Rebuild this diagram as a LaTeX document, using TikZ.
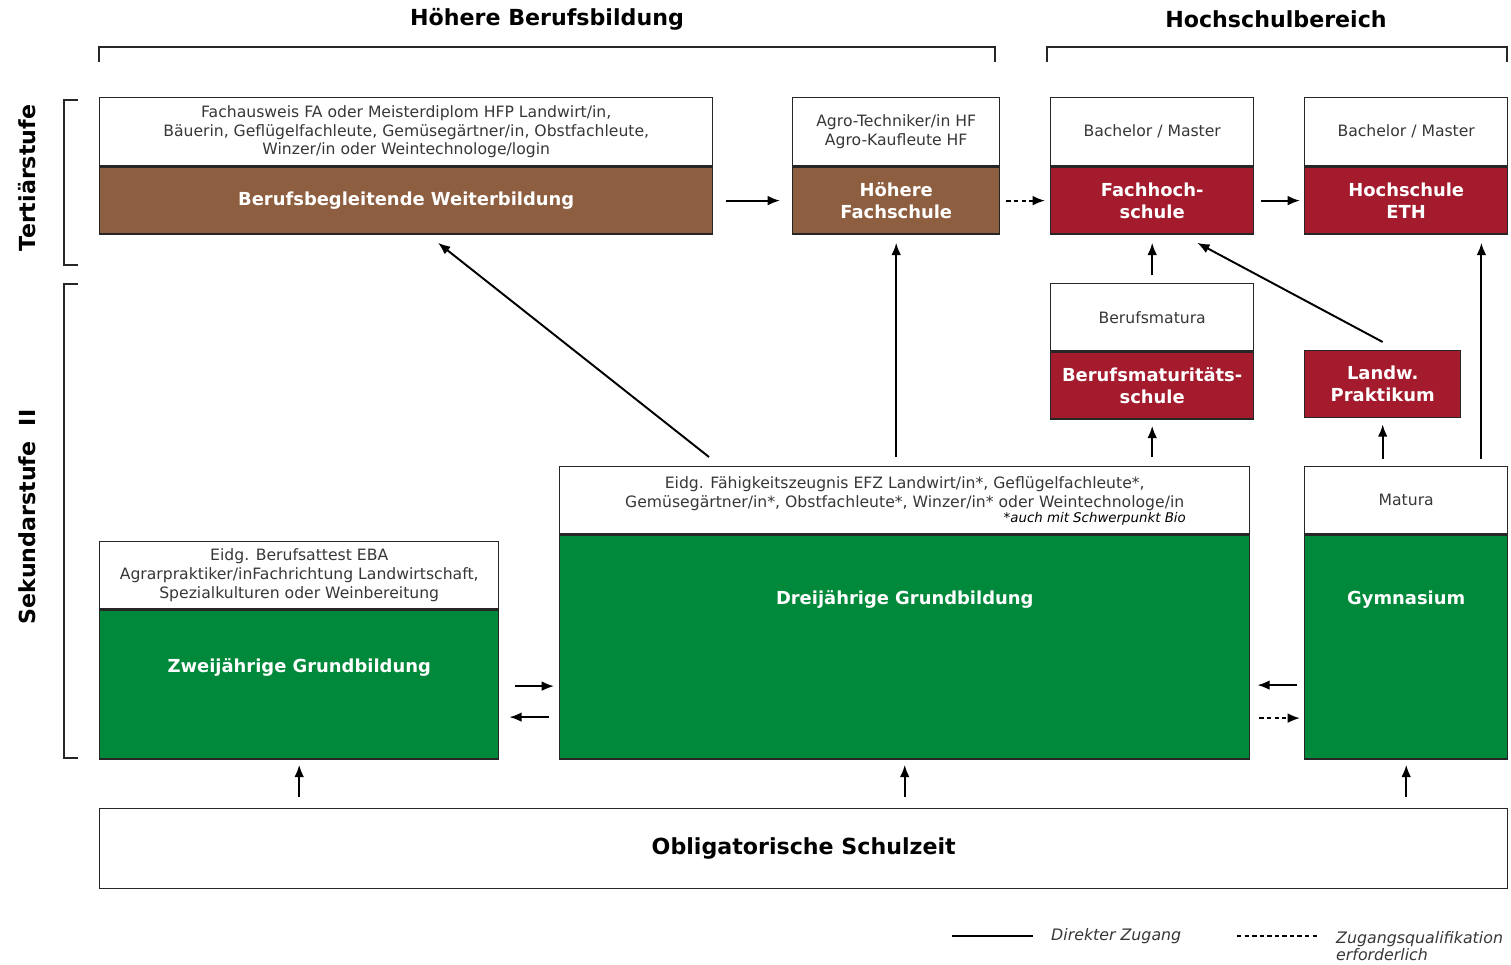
\documentclass[tikz,border=0pt]{standalone}
\usepackage{fontspec}
\setmainfont{DejaVu Sans}
\usetikzlibrary{positioning}
\usetikzlibrary{calc}
\usetikzlibrary{arrows.meta}
\definecolor{braun}{RGB}{142,94,64}
\definecolor{rot}{RGB}{163,27,45}
\definecolor{gruen}{RGB}{0,137,58}
\definecolor{schrift}{RGB}{55,55,55}

\tikzset{
  wh/.style 2 args={minimum width=#1*0.02cm, minimum height=#2*0.02cm},
  cert/.style={draw=black!85, fill=white, line width=0.8pt, align=center, inner sep=1pt,
    text=schrift, font=\fontsize{8.9}{10.8}\selectfont},
  school/.style={draw=black!85, fill=#1, line width=0.8pt, align=center, inner sep=1pt,
    text=white, font=\fontsize{10.2}{12.4}\selectfont\bfseries},
  titel/.style={font=\fontsize{12.6}{14}\selectfont\bfseries},
  pfeil/.style={-{Latex[length=7pt,width=5.5pt]}, line width=1.1pt},
  quali/.style={pfeil, dash pattern=on 2.5pt off 1.8pt},
  klammer/.style={line width=0.8pt, black!85},
}

\begin{document}
\begin{tikzpicture}[x=0.02cm, y=-0.02cm]
        \useasboundingbox (0,0) rectangle (1511,964);
        % headings %
        \node[titel] (hbb) at (547,19) {Höhere Berufsbildung};
        \node[titel] (hsb) at (1276,19) {Hochschulbereich};
        \node[titel, rotate=90] (tert) at (27,178) {Tertiärstufe};
        \node[titel, rotate=90] (sek) at (27,517) {Sekundarstufe\ \ II};
        \draw[klammer] (99,62) -- (99,47) -- (995,47) -- (995,62);
        \draw[klammer] (1047,62) -- (1047,47) -- (1507,47) -- (1507,62);
        \draw[klammer] (78,100) -- (64,100) -- (64,265) -- (78,265);
        \draw[klammer] (78,284) -- (64,284) -- (64,758) -- (78,758);
        % nodes tertiaer %
        \node[cert, wh={613}{68}, anchor=north west] (wbcert) at (99,97)
          {Fachausweis FA oder Meisterdiplom HFP Landwirt/in,\\Bäuerin, Geflügelfachleute, Gemüsegärtner/in, Obstfachleute,\\Winzer/in oder Weintechnologe/login};
        \node[school=braun, wh={613}{67}, below=0 of wbcert] (wb) {Berufsbegleitende Weiterbildung};
        \node[cert, wh={207}{68}, anchor=north west] (hfcert) at (792,97) {Agro-Techniker/in HF\\Agro-Kaufleute HF};
        \node[school=braun, wh={207}{67}, below=0 of hfcert] (hf) {Höhere\\Fachschule};
        \node[cert, wh={203}{68}, anchor=north west] (fhcert) at (1050,97) {Bachelor / Master};
        \node[school=rot, wh={203}{67}, below=0 of fhcert] (fh) {Fachhoch-\\schule};
        \node[cert, wh={203}{68}, anchor=north west] (ethcert) at (1304,97) {Bachelor / Master};
        \node[school=rot, wh={203}{67}, below=0 of ethcert] (eth) {Hochschule\\ETH};
        % nodes sekundar %
        \node[cert, wh={203}{67}, anchor=north west] (bmcert) at (1050,283) {Berufsmatura};
        \node[school=rot, wh={203}{67}, below=0 of bmcert] (bm) {Berufsmaturitäts-\\schule};
        \node[school=rot, wh={156}{67}, anchor=north west] (prak) at (1304,350) {Landw.\\Praktikum};
        \node[cert, wh={690}{67}, anchor=north west] (efzcert) at (559,466)
          {Eidg. Fähigkeitszeugnis EFZ Landwirt/in*, Geflügelfachleute*,\\Gemüsegärtner/in*, Obstfachleute*, Winzer/in* oder Weintechnologe/in\\[-1pt]\mbox{}};
        \node[anchor=east, text=black, font=\fontsize{7.6}{8}\selectfont\itshape] (bio) at (1192,519) {*auch mit Schwerpunkt Bio};
        \node[school=gruen, wh={690}{224}, below=0 of efzcert,
          label={[anchor=center, yshift=-1.3cm, text=white, font=\fontsize{10.2}{12}\selectfont\bfseries]north:Dreijährige Grundbildung}] (efz) {};
        \node[cert, wh={399}{67}, anchor=north west] (ebacert) at (99,541)
          {Eidg. Berufsattest EBA\\Agrarpraktiker/inFachrichtung Landwirtschaft,\\Spezialkulturen oder Weinbereitung};
        \node[school=gruen, wh={399}{149}, below=0 of ebacert,
          label={[anchor=center, yshift=-1.16cm, text=white, font=\fontsize{10.2}{12}\selectfont\bfseries]north:Zweijährige Grundbildung}] (eba) {};
        \node[cert, wh={203}{67}, anchor=north west] (maturacert) at (1304,466) {Matura};
        \node[school=gruen, wh={203}{224}, below=0 of maturacert,
          label={[anchor=center, yshift=-1.3cm, text=white, font=\fontsize{10.2}{12}\selectfont\bfseries]north:Gymnasium}] (matura) {};
        \node[draw=black!85, line width=0.8pt, wh={1408}{80}, anchor=north west,
          font=\fontsize{12.6}{14}\selectfont\bfseries] (schule) at (99,808) {Obligatorische Schulzeit};
        % edges %
        \draw[pfeil, shorten <=0.26cm, shorten >=0.24cm] (wb) -- (hf);
        \draw[quali, shorten <=0.12cm, shorten >=0.1cm] (hf) -- (fh);
        \draw[pfeil, shorten <=0.14cm, shorten >=0.08cm] (fh) -- (eth);
        \draw[pfeil] ($(efzcert.north west)+(150,-9)$) -- ($(wb.south west)+(339,8)$);
        \draw[pfeil, shorten <=0.18cm, shorten >=0.16cm] (hf.south |- efzcert.north) -- (hf.south);
        \draw[pfeil, shorten <=0.16cm, shorten >=0.16cm] (bmcert.north) -- (fh.south);
        \draw[pfeil] ($(prak.north)+(0,-8)$) -- ($(fh.south)+(45,8)$);
        \draw[pfeil, shorten <=0.18cm, shorten >=0.12cm] (bm.south |- efzcert.north) -- (bm.south);
        \draw[pfeil, shorten <=0.14cm, shorten >=0.12cm] (prak.south |- maturacert.north) -- (prak.south);
        \draw[pfeil, shorten <=0.14cm, shorten >=0.16cm] ($(maturacert.north east)+(-27,0)$) -- ($(eth.south east)+(-27,0)$);
        \coordinate (ebahin) at ($(eba.east)+(0,1.5)$);
        \coordinate (ebazur) at ($(eba.east)+(0,32.5)$);
        \draw[pfeil, shorten <=0.32cm, shorten >=0.1cm] (ebahin) -- (ebahin -| efz.west);
        \draw[pfeil, shorten <=0.2cm, shorten >=0.2cm] (ebazur -| efz.west) -- (ebazur);
        \coordinate (gymhin) at ($(matura.west)+(0,38)$);
        \coordinate (gymzur) at ($(matura.west)+(0,71)$);
        \draw[pfeil, shorten <=0.14cm, shorten >=0.14cm] (gymhin) -- (gymhin -| efz.east);
        \draw[quali, shorten <=0.18cm, shorten >=0.08cm] (gymzur -| efz.east) -- (gymzur);
        \draw[pfeil, shorten <=0.22cm, shorten >=0.1cm] (eba.south |- schule.north) -- (eba.south);
        \draw[pfeil, shorten <=0.22cm, shorten >=0.1cm] (efz.south |- schule.north) -- (efz.south);
        \draw[pfeil, shorten <=0.22cm, shorten >=0.1cm] (matura.south |- schule.north) -- (matura.south);
        % legend %
        \coordinate (ldirekt) at (952,936);
        \coordinate (lquali) at (1237,936);
        \draw[line width=1.1pt] (ldirekt) -- ++(81,0);
        \draw[line width=0.8pt, dash pattern=on 2.5pt off 1.8pt] (lquali) -- ++(81,0);
        \node[anchor=west, font=\fontsize{9}{10}\selectfont\itshape, text=schrift] (tdirekt) at (1045,936) {Direkter Zugang};
        \node[anchor=north west, align=left, font=\fontsize{9}{9.8}\selectfont\itshape, text=schrift] (tquali) at (1330,925) {Zugangsqualifikation\\erforderlich};
\end{tikzpicture}
\end{document}
